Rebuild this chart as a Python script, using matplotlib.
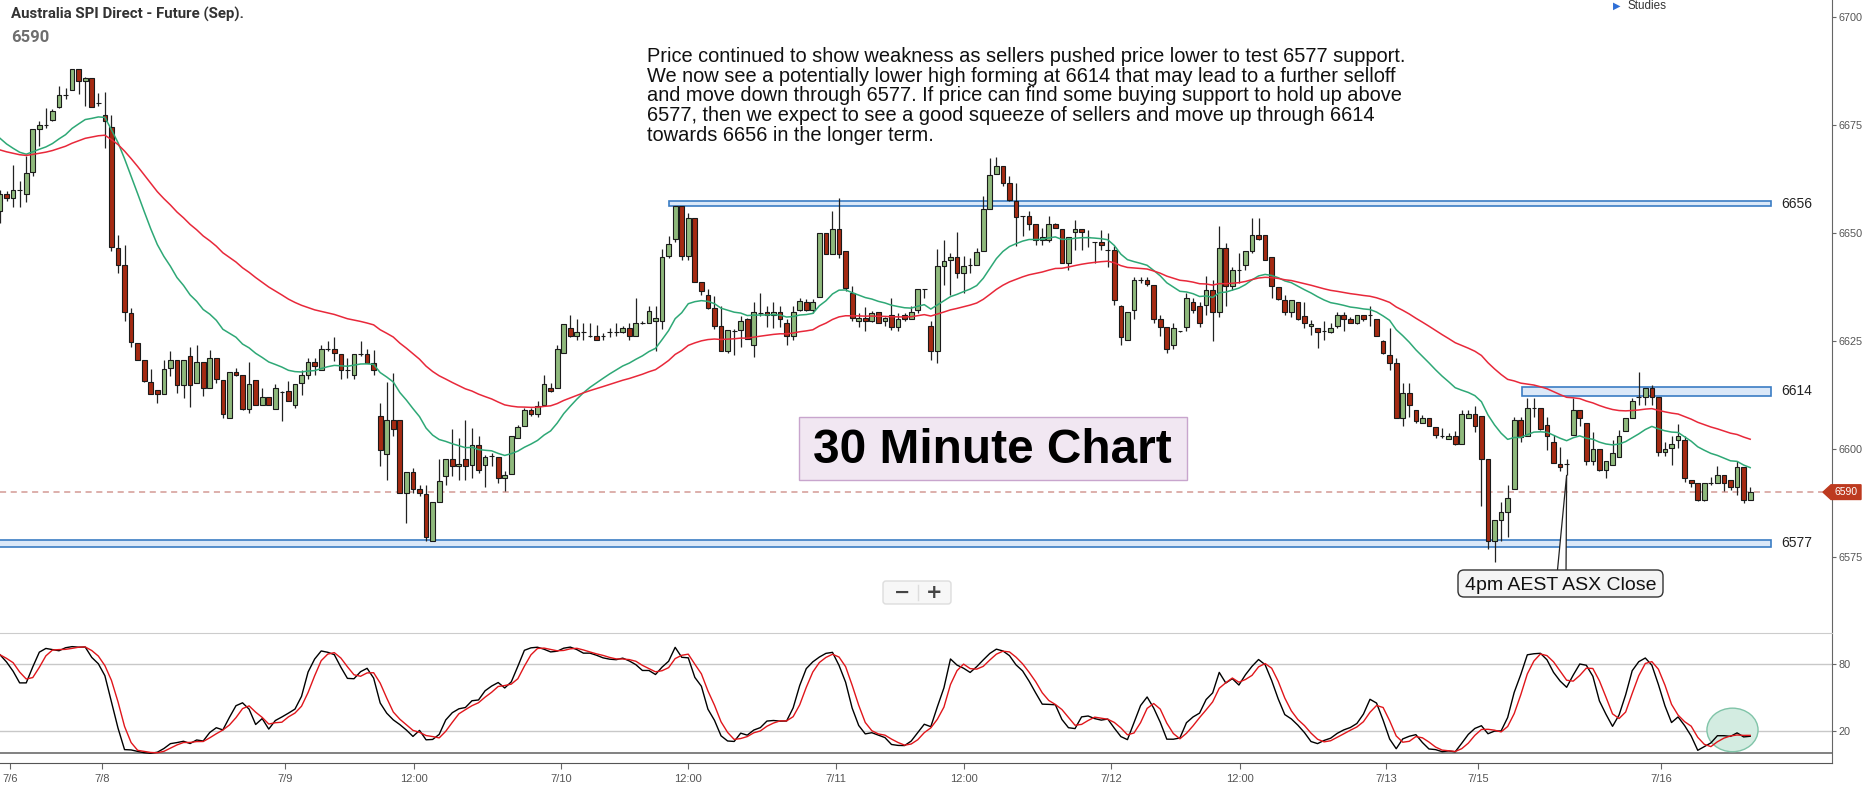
import matplotlib
matplotlib.use('Agg')
import matplotlib.pyplot as plt
from matplotlib.patches import FancyBboxPatch, Ellipse, Polygon, Rectangle
import numpy as np
import pandas as pd

plt.rcParams['font.family'] = ['Roboto', 'DejaVu Sans']

# 30 minute bars
opens = [
    6655, 6659.1, 6658.1, 6660, 6659.1, 6664, 6674, 6675, 6676.2, 6679.1,
    6682, 6683, 6688, 6685.1, 6685.8, 6680, 6677.4, 6674.5, 6646.5, 6642.5,
    6631.4, 6624.5, 6620.5, 6615.5, 6613.7, 6612.8, 6618.7, 6620.5, 6614.9, 6621.6,
    6615.2, 6620.1, 6614.2, 6621, 6616, 6607.1, 6617.9, 6617, 6609.3, 6615.9,
    6610.2, 6612, 6609.3, 6613.2, 6613.3, 6610.2, 6615.2, 6617.2, 6620.1, 6618.3,
    6623.1, 6623.1, 6622, 6618.2, 6617.2, 6622, 6622, 6620, 6607.7, 6598.8,
    6606.8, 6606.8, 6589.8, 6594.6, 6590.7, 6589.5, 6578.8, 6587.7, 6593.8, 6597.6,
    6596, 6597.6, 6596.3, 6600.9, 6596.3, 6598.3, 6598.1, 6593.3, 6594.3, 6602.5,
    6605.4, 6608.9, 6608.1, 6610.2, 6614.1, 6614.1, 6622.2, 6628, 6626.2, 6627,
    6626.2, 6626.2, 6626.2, 6627, 6627, 6627, 6628, 6626.2, 6629.1, 6629.1,
    6629.5, 6629.7, 6644.7, 6648.6, 6656.3, 6644.6, 6653.4, 6638.6, 6635.7, 6632.6,
    6628.5, 6622.6, 6627.2, 6627.6, 6630, 6624.1, 6631.4, 6631.8, 6631.1, 6631.8,
    6629.1, 6626.2, 6632.2, 6633.9, 6632.2, 6635.1, 6649.9, 6645.2, 6650.9, 6645.9,
    6636.1, 6629.5, 6630.3, 6629.5, 6631.8, 6629.5, 6631.1, 6628.2, 6630.9, 6630,
    6632.2, 6637, 6628.5, 6622.7, 6642.4, 6643.8, 6644.4, 6640.8, 6642.6, 6642.6,
    6645.7, 6655.5, 6663.6, 6665.5, 6661.5, 6657.3, 6653.8, 6653.8, 6652.1, 6648.3,
    6648.3, 6652.1, 6650.9, 6643, 6650.1, 6650.9, 6649, 6647.8, 6647.8, 6646.1,
    6646.1, 6633, 6625.3, 6632.2, 6639.2, 6639, 6638, 6630, 6628.2, 6624.1,
    6627.2, 6628.2, 6633.9, 6633, 6633.4, 6636.7, 6631.8, 6646.5, 6637.8, 6641.5,
    6642.6, 6645.7, 6649.6, 6649.6, 6644.4, 6637.4, 6634.5, 6631.8, 6633.9, 6630.8,
    6628.4, 6628, 6627.2, 6627, 6628.4, 6630.9, 6630, 6629.1, 6630.9, 6630.9,
    6630, 6624.9, 6621.8, 6620, 6607.1, 6613, 6608.9, 6606.1, 6607.1, 6605,
    6602.9, 6602.3, 6602.9, 6601.1, 6607.1, 6608.1, 6607.7, 6597.6, 6578.7, 6583.6,
    6585.5, 6590.7, 6606.8, 6602.9, 6609.5, 6609.5, 6605.6, 6601.5, 6596.5, 6596.5,
    6603.3, 6609.1, 6606, 6597.3, 6600, 6595.2, 6596.3, 6598.1, 6604.2, 6607.1,
    6612, 6612.1, 6614.1, 6612.1, 6599.2, 6600.3, 6602.1, 6602, 6592.9, 6592.1,
    6588.2, 6592.1, 6592.1, 6594, 6592.9, 6591.2, 6595.9, 6588.2,
]
highs = [
    6660, 6659.6, 6665.8, 6661.9, 6667.7, 6674, 6675.8, 6678.9, 6678.7, 6684.1,
    6683.5, 6688, 6688, 6686, 6685.8, 6682.4, 6682.5, 6677.4, 6649.6, 6647.3,
    6632.6, 6624.5, 6620.5, 6618.5, 6613.7, 6620.5, 6622.6, 6620.5, 6620.5, 6623.7,
    6624.1, 6620.1, 6622.9, 6621, 6616, 6617.9, 6618.7, 6617, 6620.1, 6615.9,
    6614.1, 6612, 6615, 6613.3, 6615.8, 6615, 6618.2, 6621, 6621, 6624.1,
    6624.9, 6626, 6622, 6621, 6622, 6624.9, 6623.1, 6622.9, 6610.6, 6615.4,
    6617.6, 6606.8, 6594.6, 6595.6, 6591.7, 6591.7, 6587.7, 6597.6, 6597.6, 6604.6,
    6602.5, 6606.8, 6604.8, 6602.9, 6598.6, 6599.1, 6598.1, 6594.8, 6602.9, 6605.6,
    6609.5, 6609.5, 6611, 6617.2, 6615.2, 6624.1, 6629, 6630.9, 6630, 6629.1,
    6629.1, 6628.7, 6626.8, 6628, 6629.1, 6628.4, 6629.1, 6634.9, 6629.5, 6633,
    6633, 6646.3, 6649.3, 6656.3, 6656.3, 6654.6, 6653.4, 6638.6, 6637, 6635.3,
    6633, 6627.6, 6627.8, 6630.7, 6630.2, 6634.1, 6636.1, 6633, 6634.1, 6633,
    6630, 6633, 6634.9, 6634.7, 6634.7, 6649.9, 6649.9, 6655, 6658.1, 6645.9,
    6637.6, 6631.4, 6632.9, 6632, 6631.8, 6630.6, 6634.9, 6631.4, 6631.4, 6633,
    6637, 6637, 6629.5, 6646.3, 6648.4, 6645.3, 6650.3, 6644.6, 6644.1, 6646.5,
    6658.5, 6667.3, 6667.5, 6665.5, 6663.1, 6661.5, 6653.8, 6655, 6652.1, 6651.1,
    6653.8, 6652.2, 6650.9, 6649, 6652.9, 6650.9, 6650.7, 6647.8, 6650.7, 6649.9,
    6646.9, 6633.4, 6631.8, 6639.9, 6639.9, 6639.9, 6638, 6631, 6628.2, 6629.1,
    6627.4, 6636.1, 6634.9, 6634.1, 6640.1, 6639.2, 6651.5, 6647.6, 6642.2, 6645.3,
    6645.7, 6653.4, 6653.4, 6649.6, 6644.4, 6637.4, 6635.6, 6634.5, 6633.9, 6633.9,
    6629.9, 6628, 6629.5, 6629.1, 6631.8, 6631.8, 6630.6, 6631.1, 6631.1, 6633,
    6630, 6625.3, 6628, 6621, 6615.2, 6615.2, 6608.9, 6607.9, 6607.1, 6605,
    6604.8, 6603.7, 6604.2, 6609.1, 6608.9, 6610, 6607.7, 6597.6, 6583.6, 6587.8,
    6591.7, 6607.5, 6607.5, 6611.8, 6611.8, 6609.5, 6607.5, 6603.3, 6600.5, 6597.6,
    6611.8, 6609.1, 6606, 6604, 6600, 6597.3, 6602, 6604.4, 6607.1, 6611.8,
    6617.9, 6614.1, 6614.8, 6612.1, 6601.7, 6602.9, 6605.8, 6602.9, 6592.9, 6592.1,
    6592.1, 6593.5, 6596, 6594, 6592.9, 6597.1, 6595.9, 6591.2,
]
lows = [
    6652.3, 6657.3, 6656.1, 6656.1, 6657.1, 6663.2, 6670, 6674.3, 6675.8, 6678.9,
    6681, 6683, 6682.2, 6679.3, 6679.1, 6679.3, 6669.6, 6645.7, 6640.7, 6629.5,
    6623.7, 6620.6, 6615.6, 6612.8, 6610.6, 6612.8, 6616.8, 6612.9, 6611.8, 6609.8,
    6615.2, 6612.3, 6614.2, 6615.2, 6607.1, 6607.1, 6616.9, 6609.1, 6608.3, 6610.2,
    6610.2, 6610.2, 6609.3, 6606.4, 6611.1, 6609.5, 6612.5, 6616.2, 6617.2, 6618.3,
    6622.6, 6620.3, 6616.2, 6616.4, 6616.2, 6621.4, 6620, 6617.2, 6596, 6592.9,
    6602.9, 6589.9, 6582.8, 6589.8, 6589, 6578.8, 6578.8, 6587.7, 6591.7, 6593.8,
    6592.9, 6592.9, 6593.3, 6594.4, 6591.3, 6596, 6592.1, 6590.2, 6594.1, 6602.5,
    6605.2, 6607.6, 6607.4, 6610.2, 6613.1, 6614.1, 6622.2, 6625.9, 6625.3, 6625.3,
    6625.9, 6625.3, 6625.1, 6625.9, 6626.2, 6626.8, 6625.1, 6626.2, 6628.9, 6629.1,
    6622.6, 6627.7, 6644.2, 6647.8, 6643.8, 6643.8, 6638.6, 6635.7, 6632.4, 6627.7,
    6622.6, 6622.2, 6621.8, 6623.7, 6625.4, 6621.3, 6630.7, 6628.2, 6628, 6628.2,
    6624.1, 6625.3, 6632, 6632, 6631.4, 6635.1, 6645.2, 6645.2, 6644.2, 6636.5,
    6629.5, 6628.2, 6627.4, 6629.3, 6629.1, 6628.5, 6627.6, 6627.2, 6629.6, 6630,
    6631.4, 6634.9, 6620.6, 6619.9, 6638, 6635.7, 6639.5, 6636.1, 6640.8, 6642.6,
    6645.7, 6655.5, 6663.6, 6660.8, 6657.3, 6646.9, 6649.2, 6650.7, 6647.3, 6647.3,
    6648, 6651.1, 6643, 6641.5, 6646.1, 6646.1, 6646.8, 6643, 6646.1, 6642.2,
    6633.4, 6624.1, 6625.3, 6630, 6638.4, 6637.6, 6629.1, 6626.2, 6622.2, 6623.1,
    6627, 6627.2, 6631.4, 6628.3, 6631.1, 6624.9, 6630.6, 6633, 6636.8, 6638.4,
    6641.5, 6645.3, 6648.4, 6643.8, 6634.9, 6634.5, 6631, 6630.6, 6629.9, 6628,
    6626.4, 6623.3, 6625.3, 6626.8, 6628, 6627.2, 6629.1, 6628.9, 6629.5, 6628.4,
    6626.2, 6622, 6618.3, 6607.1, 6605.2, 6607.5, 6606.1, 6605.9, 6605.2, 6602.5,
    6602.5, 6602.3, 6601, 6601.1, 6607.1, 6604, 6586.7, 6576.9, 6573.9, 6578.6,
    6579.7, 6590.7, 6601.7, 6602.9, 6607.5, 6604.4, 6599.8, 6596.7, 6594.8, 6594,
    6603.3, 6605.4, 6596.3, 6596.3, 6595, 6593.3, 6596.3, 6598.1, 6604.2, 6607.1,
    6610.2, 6610.2, 6610.2, 6598.3, 6598.3, 6596.3, 6600.2, 6592.3, 6591.1, 6588,
    6588, 6591.7, 6592.1, 6590.2, 6590.6, 6589.4, 6587.5, 6588.2,
]
closes = [
    6659.1, 6658.1, 6660, 6660, 6663.9, 6674, 6675, 6675, 6678.1, 6682,
    6682, 6688, 6685.1, 6685.8, 6679.1, 6680, 6675.8, 6646.7, 6642.6, 6631.7,
    6624.7, 6620.6, 6615.8, 6612.8, 6612.8, 6618.5, 6620.5, 6614.9, 6620.5, 6614.9,
    6620.1, 6614.2, 6621, 6616.2, 6608, 6617.9, 6617.2, 6609.3, 6615, 6610.2,
    6612, 6610.2, 6614.1, 6613.2, 6611.1, 6615, 6617, 6620.1, 6619.1, 6623.1,
    6623.1, 6622.2, 6618.3, 6618.2, 6622, 6622, 6620, 6618.3, 6599.8, 6606.8,
    6604.6, 6589.9, 6594.6, 6590.7, 6589.8, 6579.7, 6587.7, 6592.5, 6597.6, 6596,
    6596.5, 6596, 6600.9, 6595.2, 6598.1, 6598.3, 6593.3, 6594, 6602.9, 6605,
    6608.9, 6608.1, 6610, 6615, 6613.3, 6623.1, 6629, 6626.2, 6627, 6627,
    6626.2, 6625.3, 6626.2, 6627, 6627, 6628, 6626.2, 6629.1, 6629.1, 6632,
    6630.3, 6644.4, 6647.4, 6656.3, 6644.6, 6653.4, 6638.6, 6636.6, 6632.6, 6628.5,
    6622.6, 6627.6, 6627.4, 6629.5, 6625.4, 6631.8, 6631.4, 6631.1, 6631.8, 6630,
    6626.2, 6631.8, 6634.2, 6632.2, 6633.9, 6649.9, 6645.2, 6650.9, 6645.2, 6637.2,
    6630.3, 6630.3, 6629.5, 6631.4, 6629.1, 6630.3, 6628.3, 6630, 6630, 6631.8,
    6637, 6637, 6622.7, 6642.4, 6643.4, 6644.4, 6640.8, 6642.4, 6642.6, 6645.5,
    6655.5, 6663.5, 6665.5, 6661.5, 6657.7, 6653.7, 6653.8, 6652.1, 6648.3, 6649,
    6652.1, 6651.1, 6643, 6649, 6650.9, 6650.1, 6649, 6647.8, 6647.3, 6646.1,
    6634.4, 6626, 6631.8, 6639, 6639.2, 6638.2, 6630, 6628.2, 6623.2, 6628,
    6627.2, 6634.9, 6632.1, 6629.1, 6636.7, 6631.8, 6646.5, 6637.6, 6641.3, 6641.5,
    6645.7, 6649.6, 6648.6, 6643.8, 6637.8, 6634.8, 6631.8, 6634.5, 6630, 6629.1,
    6629, 6627, 6627.2, 6628, 6630.9, 6630, 6629.1, 6630.9, 6630, 6630.9,
    6626.2, 6622.2, 6620, 6607.1, 6613, 6610.2, 6606.4, 6607.1, 6605.4, 6603.3,
    6602.9, 6603.1, 6601.1, 6608.1, 6608.1, 6605.4, 6597.6, 6578.7, 6583.6, 6585.5,
    6588.6, 6606.8, 6602.7, 6609.5, 6609.5, 6604.6, 6602.9, 6596.7, 6595.8, 6596.5,
    6609.1, 6607.1, 6597.3, 6600, 6595.2, 6597.1, 6599, 6602.9, 6607.1, 6611,
    6612, 6614.1, 6612.1, 6599.2, 6600, 6601.1, 6602.9, 6593.3, 6592.1, 6588.2,
    6592.1, 6592.1, 6594, 6592.1, 6591.2, 6595.9, 6588.2, 6590,
]

# moving average values at the left edge of the chart
ema20_start = 6671.9
ema50_start = 6669.2

levels = [6656, 6614, 6577]
zone_low = [6656.2, 6612.3, 6577.4]
zone_high = [6657.4, 6614.3, 6578.9]
zone_start = [102.1, 232.2, -1]
zone_end = 270.2
last_price = 6590
callout_bar = 239

tick_pos = [1.6, 15.6, 43.5, 63.2, 85.6, 105.0, 127.5, 147.1, 169.5, 189.2, 211.5, 225.5, 253.4]
tick_labels = ['7/6', '7/8', '7/9', '12:00', '7/10', '12:00', '7/11', '12:00',
               '7/12', '12:00', '7/13', '7/15', '7/16']

comment = [
    "Price continued to show weakness as sellers pushed price lower to test 6577 support.",
    "We now see a potentially lower high forming at 6614 that may lead to a further selloff",
    "and move down through 6577. If price can find some buying support to hold up above",
    "6577, then we expect to see a good squeeze of sellers and move up through 6614",
    "towards 6656 in the longer term.",
]


def ema(vals, span, start):
    a = 2.0 / (span + 1)
    out = [start]
    for v in vals[1:]:
        out.append(out[-1] + a * (v - out[-1]))
    return out


o = np.array(opens)
h = np.array(highs)
l = np.array(lows)
c = np.array(closes)
n = len(c)
x = np.arange(n)

df = pd.DataFrame({'high': h, 'low': l, 'close': c})
hh = df['high'].rolling(14, min_periods=1).max()
ll = df['low'].rolling(14, min_periods=1).min()
fast_k = 100 * (df['close'] - ll) / (hh - ll)
slow_k = fast_k.rolling(3, min_periods=1).mean()
slow_d = slow_k.rolling(3, min_periods=1).mean()

W, H = 1875, 794
BAR_PX = 6.555
AX_RIGHT = 1832

fig = plt.figure(figsize=(W / 100, H / 100), dpi=100)
ax = fig.add_axes([0, 1 - 633 / H, AX_RIGHT / W, 633 / H])
sx = fig.add_axes([0, 1 - 763 / H, AX_RIGHT / W, 130 / H])

for a in (ax, sx):
    a.set_xlim(0, AX_RIGHT / BAR_PX)
    a.set_facecolor('none')
    for s in ('left', 'top', 'bottom'):
        a.spines[s].set_visible(False)
    a.spines['right'].set_color('#666666')
    a.yaxis.tick_right()
    a.tick_params(axis='y', direction='out', length=3, color='#666666',
                  labelsize=7.8, labelcolor='#555555', pad=2)
    for lab in a.get_yticklabels():
        lab.set_family('Liberation Sans')

# price panel
ax.set_ylim(6557.4, 6703.9)
ax.set_xticks([])
ax.set_yticks([6575, 6600, 6625, 6650, 6675, 6700])
for lab in ax.get_yticklabels():
    lab.set_family('Liberation Sans')

for lo, hi, x0 in zip(zone_low, zone_high, zone_start):
    ax.add_patch(Rectangle((x0, lo), zone_end - x0, hi - lo, facecolor='#dbe8f8',
                           edgecolor='#3b7dc4', lw=1.2, zorder=2))
for lev, lo, hi in zip(levels, zone_low, zone_high):
    ax.text(1781 / BAR_PX, (lo + hi) / 2, str(lev), va='center', ha='left',
            fontsize=10, family='Liberation Sans', color='#222222', clip_on=False)

ax.hlines(last_price, 0, 1824 / BAR_PX, colors='#d39a94', linestyles=(0, (4, 3)),
          lw=1.1, zorder=1)

up = c >= o
ax.vlines(x, l, h, color='#222222', lw=0.9, zorder=3)
ax.bar(x, np.abs(c - o), bottom=np.minimum(o, c), width=0.72,
       color=np.where(up, '#8fb97c', '#a52a12'), edgecolor='#1a1a1a', linewidth=0.8, zorder=4)

ax.plot(x, ema(closes, 20, ema20_start), color='#2ea876', lw=1.1, zorder=5)
ax.plot(x, ema(closes, 50, ema50_start), color='#e8283a', lw=1.1, zorder=5)

# price tag on the axis
py = 1.7
tag = Polygon([(1823 / BAR_PX, last_price), (1831 / BAR_PX, last_price + py),
               (1861 / BAR_PX, last_price + py), (1861 / BAR_PX, last_price - py),
               (1831 / BAR_PX, last_price - py)], closed=True, facecolor='#bd3a1f',
              edgecolor='#bd3a1f', clip_on=False, zorder=8)
ax.add_patch(tag)
ax.text(1846 / BAR_PX, last_price, str(last_price), color='white', fontsize=7.5,
        family='Liberation Sans', ha='center', va='center', clip_on=False, zorder=9)

# callout pointer to the ASX close bar
yb = 6570.8
ax.add_patch(Polygon([(1557 / BAR_PX, yb), (1566 / BAR_PX, yb), (callout_bar, l[callout_bar])],
                     closed=True, facecolor='white', edgecolor='#222222', lw=0.9,
                     clip_on=False, zorder=6))

# stochastic panel
sx.set_ylim(-8.6, 107.8)
sx.set_yticks([20, 80])
for lab in sx.get_yticklabels():
    lab.set_family('Liberation Sans')
sx.spines['top'].set_visible(True)
sx.spines['top'].set_color('#cccccc')
sx.spines['bottom'].set_visible(True)
sx.spines['bottom'].set_color('#555555')
sx.axhline(80, color='#c8c8c8', lw=1, zorder=1)
sx.axhline(20, color='#c8c8c8', lw=1, zorder=1)
sx.axhline(0, color='#777777', lw=1.3, zorder=1)
sx.add_patch(Ellipse((264.3, 21), 7.8, 39, facecolor='#d3ece1', edgecolor='#80c4a8',
                     lw=1, zorder=2))
sx.plot(x, slow_k, color='black', lw=1, zorder=3)
sx.plot(x, slow_d, color='#e0161b', lw=1, zorder=3)
sx.set_xticks(tick_pos, tick_labels)
for lab in sx.get_xticklabels():
    lab.set_family('Liberation Sans')
sx.tick_params(axis='x', direction='out', length=4, color='#666666',
               labelsize=8, labelcolor='#555555', pad=4)

# overlay in pixel units for the annotations
ov = fig.add_axes([0, 0, 1, 1], zorder=10)
ov.set_xlim(0, W)
ov.set_ylim(H, 0)
ov.axis('off')

ov.text(11, 19, 'Australia SPI Direct - Future (Sep).', fontsize=10.8, fontweight='bold',
        color='#333333', va='baseline')
ov.text(11, 42.5, '6590', fontsize=12, fontweight='bold', color='#6e6e6e', va='baseline')

for i, line in enumerate(comment):
    ov.text(647, 62 + i * 19.7, line, fontsize=14.4, family='Liberation Sans',
            color='#111111', va='baseline')

ov.add_patch(FancyBboxPatch((799, 417), 388, 63, boxstyle='square,pad=0',
                            facecolor='#f1e7f2', edgecolor='#c8a5cd', lw=1))
ov.text(992, 463, '30 Minute Chart', ha='center', va='baseline', fontsize=34.4,
        fontweight='bold', family='Liberation Sans', color='black')

ov.add_patch(FancyBboxPatch((1458, 570), 205, 27, boxstyle='round,pad=0,rounding_size=6',
                            facecolor='#f4f4f4', edgecolor='#333333', lw=1))
ov.text(1560.5, 590, '4pm AEST ASX Close', ha='center', va='baseline', fontsize=14,
        family='Liberation Sans', color='#111111')

ov.add_patch(FancyBboxPatch((883, 581), 68, 23, boxstyle='round,pad=0,rounding_size=3',
                            facecolor='#f7f7f7', edgecolor='#dddddd', lw=1))
ov.plot([918, 918], [585, 600], color='#dddddd', lw=1)
ov.text(902, 592.5, '\u2212', ha='center', va='center', fontsize=14, fontweight='bold',
        color='#444444', family=['DejaVu Sans'])
ov.text(934, 592.5, '+', ha='center', va='center', fontsize=14, fontweight='bold',
        color='#444444', family=['DejaVu Sans'])

ov.text(1613, 9, '\u25b6', fontsize=7, color='#2f6fd6', va='baseline', family=['DejaVu Sans'])
ov.text(1627, 9, 'Studies', fontsize=8.4, color='#333333', va='baseline',
        family='Liberation Sans')

fig.savefig('out.png', dpi=100, facecolor='white')
